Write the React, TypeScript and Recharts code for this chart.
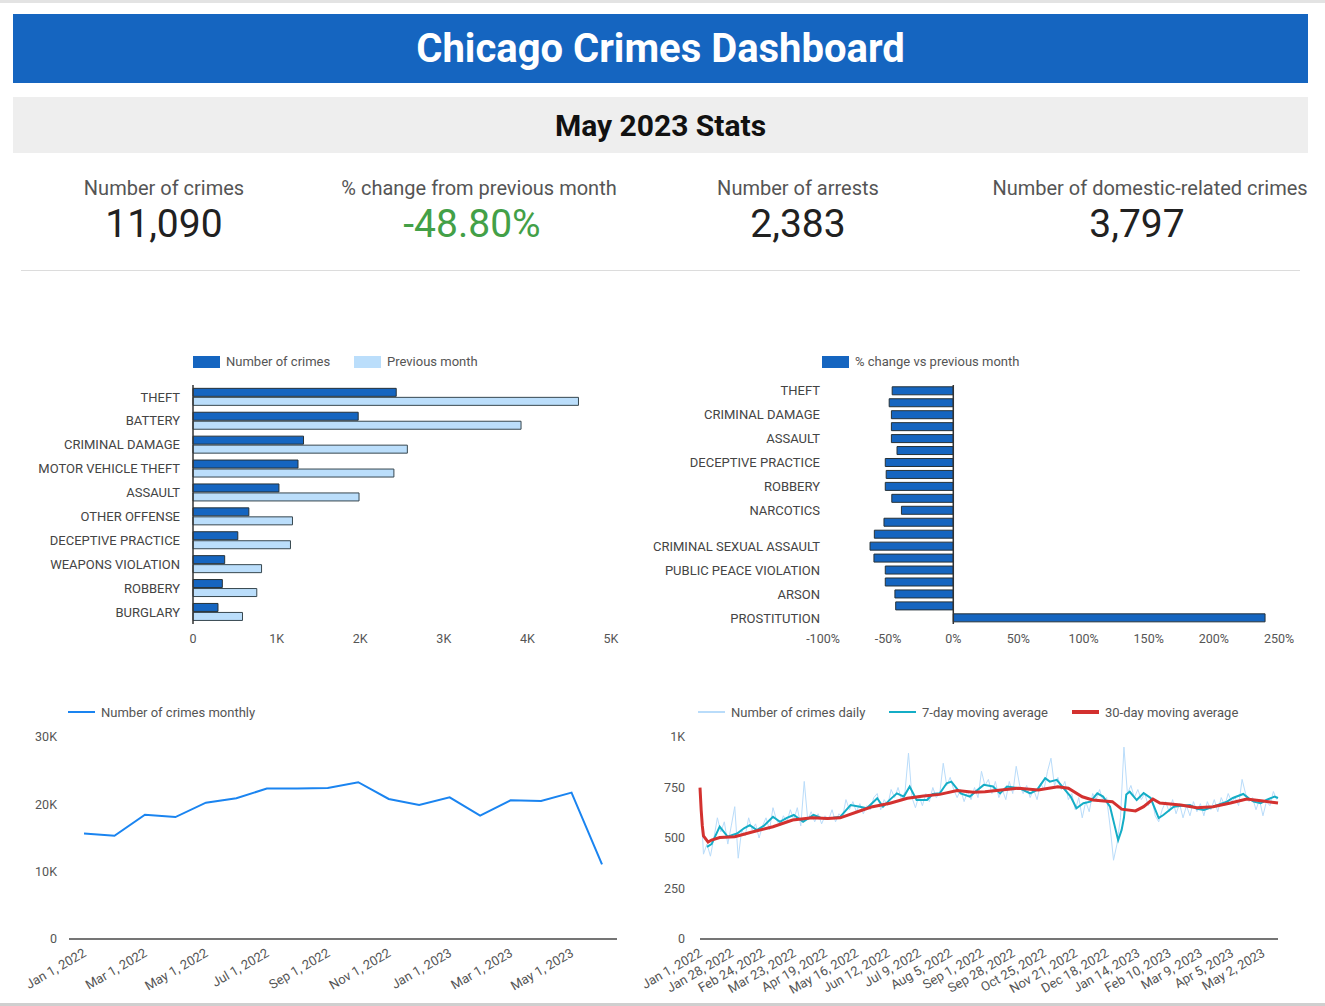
import React from 'react';
import { BarChart, Bar, XAxis, YAxis, LineChart, Line, ReferenceLine } from 'recharts';

const FONT = 'Roboto, "Noto Sans", Arial, sans-serif';

// KPI row
const kpiLabels = ['Number of crimes', '% change from previous month', 'Number of arrests', 'Number of domestic-related crimes'];
const kpiValues = ['11,090', '-48.80%', '2,383', '3,797'];
const kpiValueColors = ['#212121', '#43a047', '#212121', '#212121'];

// Top 10 categories: this month vs previous month
const topCategories = ['THEFT', 'BATTERY', 'CRIMINAL DAMAGE', 'MOTOR VEHICLE THEFT', 'ASSAULT', 'OTHER OFFENSE', 'DECEPTIVE PRACTICE', 'WEAPONS VIOLATION', 'ROBBERY', 'BURGLARY'];
const crimesThisMonth = [2431, 1976, 1322, 1256, 1028, 668, 536, 379, 351, 299];
const crimesPrevMonth = [4611, 3924, 2564, 2403, 1986, 1190, 1166, 820, 763, 592];
const countTicks = [0, 1000, 2000, 3000, 4000, 5000];

// % change by category
const changeCategories = ['THEFT', 'BATTERY', 'CRIMINAL DAMAGE', 'MOTOR VEHICLE THEFT', 'ASSAULT', 'OTHER OFFENSE', 'DECEPTIVE PRACTICE', 'WEAPONS VIOLATION', 'ROBBERY', 'BURGLARY', 'NARCOTICS', 'CRIMINAL TRESPASS', 'OFFENSE INVOLVING CHILDREN', 'CRIMINAL SEXUAL ASSAULT', 'SEX OFFENSE', 'PUBLIC PEACE VIOLATION', 'INTERFERENCE WITH PUBLIC OFFICER', 'ARSON', 'HOMICIDE', 'PROSTITUTION'];
const changePct = [-46.9, -49.2, -47.5, -47.5, -47.5, -43.2, -52.2, -51.5, -52.2, -47.2, -39.8, -53.2, -60.6, -63.9, -60.9, -52.2, -52.2, -44.8, -44.2, 239.3];
const changeLabelIdx = [0, 2, 4, 6, 8, 10, 13, 15, 17, 19];
const pctTicks = [-100, -50, 0, 50, 100, 150, 200, 250];

// Monthly crimes
const monthLabels = ['Jan 1, 2022', 'Feb 1, 2022', 'Mar 1, 2022', 'Apr 1, 2022', 'May 1, 2022', 'Jun 1, 2022', 'Jul 1, 2022', 'Aug 1, 2022', 'Sep 1, 2022', 'Oct 1, 2022', 'Nov 1, 2022', 'Dec 1, 2022', 'Jan 1, 2023', 'Feb 1, 2023', 'Mar 1, 2023', 'Apr 1, 2023', 'May 1, 2023', 'Jun 1, 2023'];
const monthlyCrimes = [15670, 15320, 18460, 18110, 20250, 20900, 22340, 22340, 22440, 23280, 20800, 19900, 21040, 18310, 20600, 20500, 21740, 11090];
const monthlyTicks = [0, 10000, 20000, 30000];

// Daily crimes (sampled every 3 days from Jan 1, 2022)
const DAILY_STEP = 3;
const dailyCrimes = [
  745, 420, 470, 410, 500, 600, 530, 580, 470, 560, 655, 400, 540, 510, 600, 540, 570, 500, 560, 600,
  540, 650, 590, 560, 610, 580, 640, 590, 650, 560, 780, 590, 630, 580, 620, 570, 610, 590, 640, 580,
  620, 600, 690, 640, 680, 630, 670, 620, 660, 640, 700, 720, 640, 690, 660, 740, 700, 750, 690, 730,
  920, 700, 650, 710, 660, 720, 680, 750, 700, 720, 870, 760, 800, 740, 700, 740, 680, 730, 690, 750,
  700, 830, 760, 790, 720, 780, 700, 740, 690, 780, 720, 855, 760, 720, 760, 700, 740, 690, 770, 740,
  830, 895, 760, 800, 740, 780, 690, 720, 640, 700, 600, 680, 630, 720, 690, 740, 680, 700, 560, 390,
  470, 600, 950, 720, 760, 700, 740, 690, 720, 660, 700, 610, 580, 640, 680, 630, 690, 620, 670, 600,
  660, 610, 680, 630, 670, 610, 680, 640, 690, 630, 700, 660, 720, 680, 700, 660, 790, 720, 680, 700,
  640, 690, 610, 680, 660, 730, 690
];
// 7-day moving average [day, value]
const ma7Points = [
  [6, 456], [10, 470], [17, 556], [24, 506], [28, 515], [32, 522], [38, 548], [43, 564], [49, 539], [55, 560],
  [63, 605], [69, 580], [75, 600], [81, 614], [89, 580], [98, 614], [104, 600], [109, 597], [115, 600], [121, 605],
  [130, 663], [138, 655], [144, 647], [153, 697], [158, 655], [164, 690], [170, 721], [176, 705], [181, 755], [187, 688],
  [196, 688], [201, 718], [207, 721], [213, 771], [217, 779], [225, 721], [233, 705], [239, 735], [245, 763], [253, 755],
  [259, 721], [265, 755], [276, 746], [285, 721], [291, 738], [298, 796], [302, 779], [308, 788], [314, 746], [320, 705],
  [325, 647], [331, 672], [337, 680], [343, 721], [348, 705], [354, 655], [358, 560], [361, 489], [364, 540], [366, 600],
  [368, 715], [371, 729], [377, 688], [383, 722], [389, 698], [396, 599], [400, 614], [409, 655], [416, 660], [423, 663],
  [429, 645], [435, 639], [443, 655], [450, 670], [455, 680], [460, 698], [469, 718], [474, 695], [478, 680], [484, 672],
  [489, 688], [496, 705], [499, 698]
];
// 30-day moving average [day, value]
const ma30Points = [
  [0, 749], [1, 640], [2, 560], [3, 510], [7, 480], [10, 490], [17, 502], [30, 506], [45, 530], [63, 556],
  [80, 589], [97, 600], [110, 597], [121, 600], [136, 630], [149, 655], [164, 672], [179, 697], [193, 708], [207, 716],
  [222, 735], [236, 727], [246, 729], [260, 738], [275, 746], [292, 738], [309, 754], [318, 746], [330, 704], [339, 688],
  [356, 680], [364, 643], [376, 634], [383, 655], [391, 693], [397, 673], [415, 663], [429, 650], [443, 655], [458, 673],
  [472, 693], [486, 683], [499, 673]
];
const dailyTickDays = [0, 27, 54, 81, 108, 135, 162, 189, 216, 243, 270, 297, 324, 351, 378, 405, 432, 459, 486];
const dailyTickLabels = ['Jan 1, 2022', 'Jan 28, 2022', 'Feb 24, 2022', 'Mar 23, 2022', 'Apr 19, 2022', 'May 16, 2022', 'Jun 12, 2022', 'Jul 9, 2022', 'Aug 5, 2022', 'Sep 1, 2022', 'Sep 28, 2022', 'Oct 25, 2022', 'Nov 21, 2022', 'Dec 18, 2022', 'Jan 14, 2023', 'Feb 10, 2023', 'Mar 9, 2023', 'Apr 5, 2023', 'May 2, 2023'];
const dailyYTicks = [0, 250, 500, 750, 1000];

const DARK = '#1565c0';
const LIGHT = '#bbdefb';
const MONTH_LINE = '#1a84f0';
const DAILY_LINE = '#b9dcfa';
const MA7_LINE = '#14adc6';
const MA30_LINE = '#d3312f';

const topData = topCategories.map((name, i) => ({ name, current: crimesThisMonth[i], previous: crimesPrevMonth[i] }));
const changeData = changeCategories.map((name, i) => ({ name, pct: changePct[i] }));
const monthlyData = monthLabels.map((label, i) => ({ label, crimes: monthlyCrimes[i] }));
const dailyData = dailyCrimes.map((v, i) => ({ day: i * DAILY_STEP, v }));
const ma7Data = ma7Points.map(([day, v]) => ({ day, v }));
const ma30Data = ma30Points.map(([day, v]) => ({ day, v }));

const kFmt = (v: number) => (v === 0 ? '0' : `${v / 1000}K`);

const RotTick = (props: any) => {
  const { x, y, label } = props;
  return (
    <g transform={`translate(${x - 2},${y}) rotate(-30)`}>
      <text x={0} y={0} dy={10} textAnchor="end" fill="#555" fontSize={13} fontFamily={FONT}>{label}</text>
    </g>
  );
};

const CatTick = (props: any) => {
  const { x, y, payload, index } = props;
  if (!changeLabelIdx.includes(index)) return null;
  return (
    <text x={x} y={y} dy={4.5} textAnchor="end" fill="#444" fontSize={13} fontFamily={FONT}>{payload.value}</text>
  );
};

const LegendBox = ({ left, top, color, text }: any) => (
  <div style={{ position: 'absolute', left, top, display: 'flex', alignItems: 'center', whiteSpace: 'nowrap' }}>
    <div style={{ width: 27, height: 12, background: color }} />
    <span style={{ marginLeft: 6, fontSize: 13, color: '#555' }}>{text}</span>
  </div>
);
const LegendLine = ({ left, top, color, text, thick }: any) => (
  <div style={{ position: 'absolute', left, top, display: 'flex', alignItems: 'center', whiteSpace: 'nowrap', height: 14 }}>
    <div style={{ width: 27, height: thick, background: color }} />
    <span style={{ marginLeft: 6, fontSize: 13, color: '#555' }}>{text}</span>
  </div>
);

const kpiCenters = [164, 479, 798, 1150];
const kpiValueCenters = [164, 472, 798, 1137];

export default function App() {
  const tickStyle = { fontSize: 13, fill: '#444', fontFamily: FONT };
  const numTickStyle = { fontSize: 12.5, fill: '#555', fontFamily: FONT };
  return (
    <div style={{ position: 'absolute', left: 0, top: 0, width: 1325, height: 1006, background: '#fff', fontFamily: FONT, overflow: 'hidden' }}>
      <div style={{ position: 'absolute', left: 0, top: 0, width: 1325, height: 3, background: '#e3e3e3' }} />
      <div style={{ position: 'absolute', left: 0, top: 1003, width: 1325, height: 3, background: '#cfcfcf' }} />

      <div style={{ position: 'absolute', left: 13, top: 14, width: 1295, height: 69, background: DARK, color: '#fff', fontWeight: 700, fontSize: 40, lineHeight: '69px', textAlign: 'center' }}>
        Chicago Crimes Dashboard
      </div>
      <div style={{ position: 'absolute', left: 13, top: 97, width: 1295, height: 56, background: '#eeeeee', color: '#111', fontWeight: 700, fontSize: 30, lineHeight: '57px', textAlign: 'center' }}>
        May 2023 Stats
      </div>

      {kpiLabels.map((l, i) => (
        <div key={l} style={{ position: 'absolute', left: kpiCenters[i] - 200, top: 176, width: 400, textAlign: 'center', fontSize: 20, color: '#555', lineHeight: '24px' }}>{l}</div>
      ))}
      {kpiValues.map((v, i) => (
        <div key={v} style={{ position: 'absolute', left: kpiValueCenters[i] - 200, top: 200, width: 400, textAlign: 'center', fontSize: 39, color: kpiValueColors[i], lineHeight: '48px' }}>{v}</div>
      ))}
      <div style={{ position: 'absolute', left: 21, top: 270, width: 1279, height: 1, background: '#dcdcdc' }} />

      {/* Top categories bar chart */}
      <div style={{ position: 'absolute', left: 0, top: 340 }}>
        <BarChart width={640} height={320} data={topData} layout="vertical" margin={{ top: 45, right: 29, bottom: 0, left: 0 }} barGap={1} barCategoryGap="14%">
          <XAxis type="number" domain={[0, 5000]} ticks={countTicks} tickFormatter={kFmt} axisLine={false} tickLine={false} height={36} tick={numTickStyle} tickMargin={4} />
          <YAxis type="category" dataKey="name" width={193} axisLine={{ stroke: '#333', strokeWidth: 1.5 }} tickLine={false} tick={tickStyle} tickMargin={7} interval={0} />
          <Bar dataKey="current" fill={DARK} stroke="#263238" strokeWidth={1} isAnimationActive={false} />
          <Bar dataKey="previous" fill={LIGHT} stroke="#37474f" strokeWidth={1} isAnimationActive={false} />
        </BarChart>
      </div>
      <LegendBox left={193} top={354} color={DARK} text="Number of crimes" />
      <LegendBox left={354} top={354} color={LIGHT} text="Previous month" />

      {/* % change bar chart */}
      <div style={{ position: 'absolute', left: 640, top: 340 }}>
        <BarChart width={685} height={320} data={changeData} layout="vertical" margin={{ top: 45, right: 46, bottom: 0, left: 0 }} barCategoryGap="15%">
          <XAxis type="number" domain={[-100, 250]} ticks={pctTicks} tickFormatter={(v: number) => `${v}%`} axisLine={false} tickLine={false} height={36} tick={numTickStyle} tickMargin={4} />
          <YAxis type="category" dataKey="name" width={183} axisLine={false} tickLine={false} tickSize={0} tickMargin={3} interval={0} tick={(p: any) => <CatTick {...p} />} />
          <Bar dataKey="pct" fill={DARK} stroke="#263238" strokeWidth={1} isAnimationActive={false} />
          <ReferenceLine x={0} stroke="#333" strokeWidth={1.5} />
        </BarChart>
      </div>
      <LegendBox left={822} top={354} color={DARK} text="% change vs previous month" />

      {/* Monthly line chart */}
      <div style={{ position: 'absolute', left: 0, top: 690 }}>
        <LineChart width={640} height={316} data={monthlyData} margin={{ top: 47, right: 23, bottom: 0, left: 0 }}>
          <XAxis dataKey="label" height={67} interval={1} padding={{ left: 15, right: 15 }} axisLine={{ stroke: '#757575', strokeWidth: 2 }} tickLine={false}
            tick={(p: any) => <RotTick x={p.x} y={p.y} label={p.payload.value} />} />
          <YAxis domain={[0, 30000]} ticks={monthlyTicks} tickFormatter={kFmt} width={69} axisLine={false} tickLine={false} tick={numTickStyle} tickMargin={6} />
          <Line dataKey="crimes" stroke={MONTH_LINE} strokeWidth={2} dot={false} isAnimationActive={false} />
        </LineChart>
      </div>
      <LegendLine left={68} top={705} color={MONTH_LINE} thick={2.5} text="Number of crimes monthly" />

      {/* Daily line chart */}
      <div style={{ position: 'absolute', left: 640, top: 690 }}>
        <LineChart width={685} height={316} margin={{ top: 47, right: 47, bottom: 0, left: 0 }}>
          <XAxis dataKey="day" type="number" domain={[0, 499]} ticks={dailyTickDays} interval={0} height={67} axisLine={{ stroke: '#757575', strokeWidth: 2 }} tickLine={false}
            tick={(p: any) => <RotTick x={p.x} y={p.y} label={dailyTickLabels[dailyTickDays.indexOf(p.payload.value)]} />} />
          <YAxis type="number" domain={[0, 1000]} ticks={dailyYTicks} tickFormatter={(v: number) => (v === 1000 ? '1K' : `${v}`)} width={60} axisLine={false} tickLine={false} tick={numTickStyle} tickMargin={9} />
          <Line data={dailyData} dataKey="v" stroke={DAILY_LINE} strokeWidth={1} dot={false} isAnimationActive={false} />
          <Line data={ma7Data} dataKey="v" stroke={MA7_LINE} strokeWidth={2} dot={false} isAnimationActive={false} />
          <Line data={ma30Data} dataKey="v" stroke={MA30_LINE} strokeWidth={3} dot={false} isAnimationActive={false} />
        </LineChart>
      </div>
      <LegendLine left={698} top={705} color={DAILY_LINE} thick={2} text="Number of crimes daily" />
      <LegendLine left={889} top={705} color={MA7_LINE} thick={2.5} text="7-day moving average" />
      <LegendLine left={1072} top={705} color={MA30_LINE} thick={3.5} text="30-day moving average" />
    </div>
  );
}
